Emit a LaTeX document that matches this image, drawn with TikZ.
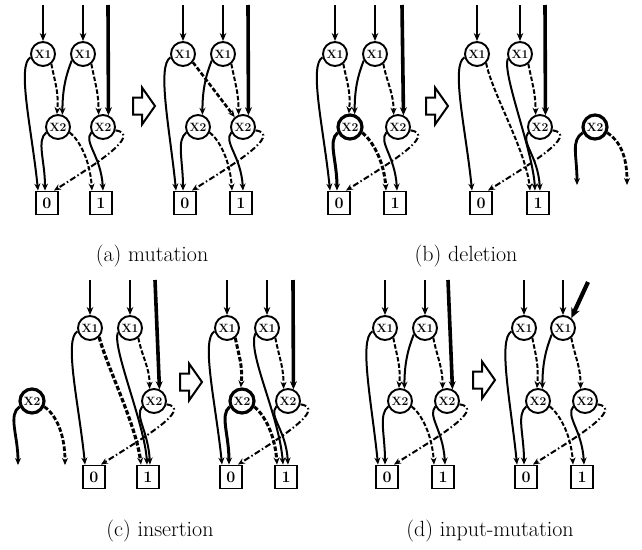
\documentclass[tikz,border=0pt]{standalone}
\usetikzlibrary{arrows.meta}
\newcommand\eIn[1]{\draw[inp] (#1t1) -- (#1a); \draw[inp] (#1t2) -- (#1b);}
\newcommand\eInR[1]{\draw[inthick] (#1t3) -- (#1d.65);}
\newcommand\eXzero[1]{\draw[hi] (#1a.195) .. controls +(-14,-8) and +(-6,60) .. ([xshift=-9pt]#1z.north);}
\newcommand\eXlLo[1]{\draw[lo] (#1a.-50) .. controls +(4,-20) and +(2,22) .. (#1c.95);}
\newcommand\eXrHi[1]{\draw[hi] (#1b.210) .. controls +(-6,-15) and +(0,25) .. (#1c.70);}
\newcommand\eXrLo[1]{\draw[lo] (#1b.-50) .. controls +(4,-20) and +(0,22) .. (#1d.110);}
\newcommand\eYlHi[1]{\draw[hi] (#1c.205) .. controls +(-10,-8) and +(0,30) .. ([xshift=-2pt]#1z.north);}
\newcommand\eYlLo[1]{\draw[lo] (#1c.-25) .. controls +(10,-8) and +(-2,30) .. ([xshift=-9pt]#1o.north);}
\newcommand\eYrHi[1]{\draw[hi] (#1d.205) .. controls +(-8,-10) and +(-2,35) .. ([xshift=2pt]#1o.north);}
\newcommand\eYrCx[1]{\draw[cx] (#1d.-15) .. controls +(28,-4) and +(38,24) .. ([xshift=7pt]#1z.north);}
\newcommand\blockarrow{\draw[blk] (-11,-8.5) -- (-2,-8.5) -- (-2,-18.5) -- (11,0) -- (-2,18.5) -- (-2,8.5) -- (-11,8.5) -- cycle;}
\begin{document}
\begin{tikzpicture}[x=1pt,y=1pt,
  vnode/.style={circle,draw,line width=1.9pt,minimum size=24pt,inner sep=0pt,font=\bfseries\fontsize{12}{12}\selectfont},
  vbold/.style={vnode,line width=3.2pt},
  tnode/.style={rectangle,draw,line width=1.9pt,minimum width=22pt,minimum height=23pt,inner sep=0pt,font=\bfseries\fontsize{16}{16}\selectfont},
  hi/.style={line width=2pt,-{Stealth[length=7pt,width=6pt]}},
  lo/.style={hi,dash pattern=on 4.5pt off 2pt},
  cx/.style={hi,dash pattern=on 6pt off 2.5pt on 1.5pt off 2.5pt},
  inp/.style={line width=2.3pt,-{Stealth[length=8pt,width=6.5pt]}},
  inthick/.style={line width=3.6pt,-{Stealth[length=8pt,width=7pt]}},
  blk/.style={draw,line width=2pt,line join=miter},
  captxt/.style={font=\fontsize{22}{22}\selectfont}
]
\useasboundingbox (0,0) rectangle (642,-549);

% ---------- (a) left ----------
\begin{scope}[shift={(43,-54)}]
\node[vnode] (Aa) at (0,0) {X1};
\node[vnode] (Ab) at (40,0) {X1};
\node[vnode] (Ac) at (15,-73) {X2};
\node[vnode] (Ad) at (60,-73) {X2};
\node[tnode] (Az) at (4,-149) {0};
\node[tnode] (Ao) at (58,-149) {1};
\coordinate (At1) at (0,49); \coordinate (At2) at (40,49); \coordinate (At3) at (65,49);
\eIn{A}\eInR{A}\eXzero{A}\eXlLo{A}\eXrHi{A}\eXrLo{A}\eYlHi{A}\eYlLo{A}\eYrHi{A}\eYrCx{A}
\end{scope}
\begin{scope}[shift={(144,-106)}]\blockarrow\end{scope}

% ---------- (a) right ----------
\begin{scope}[shift={(183,-54)}]
\node[vnode] (Ba) at (0,0) {X1};
\node[vnode] (Bb) at (40,0) {X1};
\node[vnode] (Bc) at (15,-73) {X2};
\node[vnode] (Bd) at (60,-73) {X2};
\node[tnode] (Bz) at (2,-149) {0};
\node[tnode] (Bo) at (58,-149) {1};
\coordinate (Bt1) at (0,49); \coordinate (Bt2) at (40,49); \coordinate (Bt3) at (65,49);
\eIn{B}\eInR{B}\eXzero{B}\eXrHi{B}\eXrLo{B}\eYlHi{B}\eYlLo{B}\eYrHi{B}\eYrCx{B}
\draw[lo,line width=2.6pt] (Ba.-40) -- (Bd.130);
\end{scope}

% ---------- (b) left ----------
\begin{scope}[shift={(335,-54)}]
\node[vnode] (Ca) at (0,0) {X1};
\node[vnode] (Cb) at (40,0) {X1};
\node[vbold] (Cc) at (15,-73) {X2};
\node[vnode] (Cd) at (63,-73) {X2};
\node[tnode] (Cz) at (4,-149) {0};
\node[tnode] (Co) at (60,-149) {1};
\coordinate (Ct1) at (0,49); \coordinate (Ct2) at (40,49); \coordinate (Ct3) at (67,49);
\eIn{C}\eInR{C}\eXzero{C}\eXlLo{C}\eXrHi{C}\eXrLo{C}\eYrHi{C}\eYrCx{C}
\draw[hi,line width=3pt] (Cc.205) .. controls +(-10,-8) and +(0,30) .. ([xshift=-2pt]Cz.north);
\draw[lo,line width=3pt] (Cc.-25) .. controls +(10,-8) and +(-2,30) .. ([xshift=-9pt]Co.north);
\end{scope}
\begin{scope}[shift={(437,-106)}]\blockarrow\end{scope}

% ---------- (b) right ----------
\begin{scope}[shift={(477,-54)}]
\node[vnode] (Da) at (0,0) {X1};
\node[vnode] (Db) at (43,0) {X1};
\node[vnode] (Dd) at (63,-73) {X2};
\node[tnode] (Dz) at (4,-149) {0};
\node[tnode] (Do) at (61,-149) {1};
\node[vbold] (De) at (118,-73) {X2};
\coordinate (Dt1) at (0,49); \coordinate (Dt2) at (43,49); \coordinate (Dt3) at (68,49);
\coordinate (Df) at (100,-131); \coordinate (Dg) at (150,-131);
\eIn{D}\eInR{D}\eXzero{D}\eXrLo{D}\eYrHi{D}\eYrCx{D}
\draw[lo] (Da.-45) .. controls +(6,-30) and +(-4,40) .. ([xshift=-8pt]Do.north);
\draw[hi] (Db.200) .. controls +(-6,-15) and +(-2,40) .. ([xshift=-3pt]Do.north);
\draw[hi,line width=2.8pt] (De.205) .. controls +(-12,-8) and +(0,30) .. (Df);
\draw[lo,line width=2.8pt] (De.-25) .. controls +(12,-8) and +(0,30) .. (Dg);
\end{scope}

% ---------- (c) left ----------
\begin{scope}[shift={(90,-328)}]
\node[vnode] (Ea) at (0,0) {X1};
\node[vnode] (Eb) at (40,0) {X1};
\node[vnode] (Ed) at (64,-73) {X2};
\node[tnode] (Ez) at (4,-149) {0};
\node[tnode] (Eo) at (58,-149) {1};
\node[vbold] (Ee) at (-58,-73) {X2};
\coordinate (Et1) at (0,48); \coordinate (Et2) at (40,48); \coordinate (Et3) at (65,48);
\coordinate (Ef) at (-72,-137); \coordinate (Eg) at (-25,-137);
\eIn{E}\eInR{E}\eXzero{E}\eXrLo{E}\eYrHi{E}\eYrCx{E}
\draw[lo,line width=3.2pt] (Ea.-45) .. controls +(8,-30) and +(-5,40) .. ([xshift=-7pt]Eo.north);
\draw[hi] (Eb.200) .. controls +(-6,-15) and +(-2,40) .. ([xshift=-1pt]Eo.north);
\draw[hi,line width=2.8pt] (Ee.205) .. controls +(-12,-8) and +(0,30) .. (Ef);
\draw[lo,line width=2.8pt] (Ee.-25) .. controls +(12,-8) and +(0,30) .. (Eg);
\end{scope}
\begin{scope}[shift={(191,-382)}]\blockarrow\end{scope}

% ---------- (c) right ----------
\begin{scope}[shift={(227,-328)}]
\node[vnode] (Fa) at (0,0) {X1};
\node[vnode] (Fb) at (40,0) {X1};
\node[vbold] (Fc) at (15,-73) {X2};
\node[vnode] (Fd) at (61,-73) {X2};
\node[tnode] (Fz) at (4,-149) {0};
\node[tnode] (Fo) at (59,-149) {1};
\coordinate (Ft1) at (0,48); \coordinate (Ft2) at (40,48); \coordinate (Ft3) at (66,48);
\eIn{F}\eInR{F}\eXzero{F}\eXrLo{F}\eYrHi{F}\eYrCx{F}
\draw[lo,line width=3pt] (Fa.-50) .. controls +(4,-20) and +(2,22) .. (Fc.95);
\draw[hi] (Fb.205) .. controls +(-8,-20) and +(-4,50) .. ([xshift=-3pt]Fo.north);
\draw[hi,line width=3pt] (Fc.205) .. controls +(-10,-8) and +(0,30) .. ([xshift=-2pt]Fz.north);
\draw[lo,line width=3pt] (Fc.-25) .. controls +(10,-8) and +(-2,30) .. ([xshift=-9pt]Fo.north);
\end{scope}

% ---------- (d) left ----------
\begin{scope}[shift={(385,-328)}]
\node[vnode] (Ga) at (0,0) {X1};
\node[vnode] (Gb) at (40,0) {X1};
\node[vnode] (Gc) at (15,-73) {X2};
\node[vnode] (Gd) at (62,-73) {X2};
\node[tnode] (Gz) at (2,-149) {0};
\node[tnode] (Go) at (58,-149) {1};
\coordinate (Gt1) at (0,48); \coordinate (Gt2) at (40,48); \coordinate (Gt3) at (63,48);
\eIn{G}\eInR{G}\eXzero{G}\eXlLo{G}\eXrHi{G}\eXrLo{G}\eYlHi{G}\eYlLo{G}\eYrHi{G}\eYrCx{G}
\end{scope}
\begin{scope}[shift={(484,-380)}]\blockarrow\end{scope}

% ---------- (d) right ----------
\begin{scope}[shift={(524,-328)}]
\node[vnode] (Ha) at (0,0) {X1};
\node[vnode] (Hb) at (39,0) {X1};
\node[vnode] (Hc) at (14,-73) {X2};
\node[vnode] (Hd) at (61,-73) {X2};
\node[tnode] (Hz) at (2,-149) {0};
\node[tnode] (Ho) at (58,-149) {1};
\coordinate (Ht1) at (0,48); \coordinate (Ht2) at (39,48); \coordinate (Ht3) at (64,46);
\eIn{H}\eXzero{H}\eXlLo{H}\eXrHi{H}\eXrLo{H}\eYlHi{H}\eYlLo{H}\eYrHi{H}\eYrCx{H}
\draw[line width=4.2pt,-{Stealth[length=10pt,width=9pt]}] (Ht3) -- (Hb.50);
\end{scope}

% ---------- captions ----------
\node[captxt] (capa) at (152,-256) {(a) mutation};
\node[captxt] (capb) at (466,-256) {(b) deletion};
\node[captxt] (capc) at (160,-531) {(c) insertion};
\node[captxt] (capd) at (490,-531) {(d) input-mutation};
\end{tikzpicture}
\end{document}
